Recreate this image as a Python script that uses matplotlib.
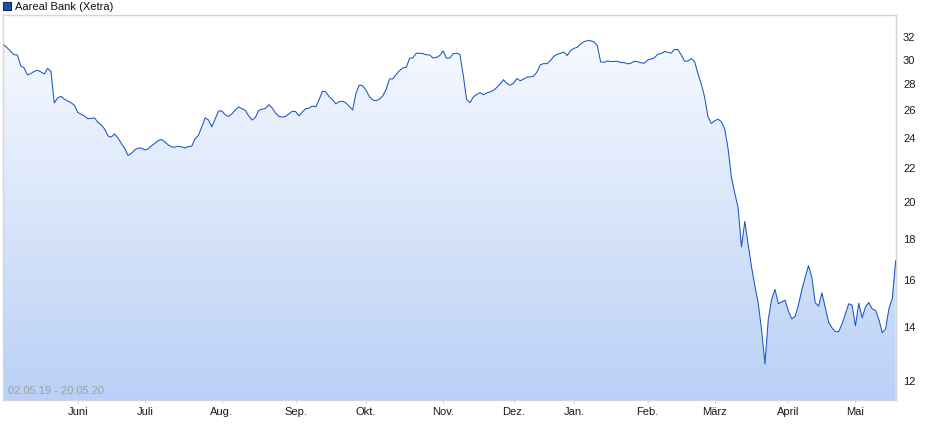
import numpy as np
import pandas as pd
import matplotlib
matplotlib.use('Agg')
import matplotlib.pyplot as plt
from matplotlib.patches import Rectangle
from matplotlib.ticker import FixedLocator, FixedFormatter, NullLocator

plt.rcParams['font.family'] = ['Liberation Sans', 'DejaVu Sans']

# Xetra closing prices, 02.05.19 - 20.05.20
prices = [
    31.19, 30.92, 30.62, 30.33, 30.31, 29.38, 29.21, 28.63, 28.75, 28.92,
    29.02, 28.88, 28.71, 29.17, 28.92, 26.44, 26.82, 26.93, 26.72, 26.59,
    26.45, 26.26, 25.73, 25.60, 25.47, 25.27, 25.29, 25.33, 25.01, 24.83,
    24.55, 24.06, 23.98, 24.20, 23.92, 23.55, 23.22, 22.76, 22.89, 23.12,
    23.25, 23.23, 23.12, 23.19, 23.39, 23.55, 23.75, 23.82, 23.65, 23.45,
    23.32, 23.30, 23.37, 23.32, 23.25, 23.34, 23.37, 23.86, 24.10, 24.69,
    25.33, 25.18, 24.69, 25.26, 25.84, 25.84, 25.55, 25.44, 25.63, 25.91,
    26.14, 25.99, 25.88, 25.47, 25.18, 25.37, 25.88, 25.97, 26.03, 26.30,
    26.06, 25.69, 25.44, 25.39, 25.44, 25.62, 25.82, 25.79, 25.47, 25.77,
    26.00, 26.04, 26.21, 26.14, 26.69, 27.33, 27.28, 26.91, 26.68, 26.36,
    26.54, 26.56, 26.44, 26.17, 25.91, 27.17, 27.82, 27.76, 27.41, 26.91,
    26.66, 26.61, 26.72, 26.98, 27.47, 28.31, 28.31, 28.69, 28.99, 29.21,
    29.27, 30.02, 30.08, 30.46, 30.46, 30.43, 30.33, 30.31, 30.05, 30.10,
    30.27, 30.66, 30.03, 30.05, 30.42, 30.46, 30.36, 28.63, 26.69, 26.46,
    26.89, 27.08, 27.23, 27.06, 27.20, 27.28, 27.40, 27.63, 27.91, 28.25,
    27.95, 27.80, 27.97, 28.34, 28.16, 28.29, 28.45, 28.48, 28.53, 28.88,
    29.48, 29.57, 29.57, 29.83, 30.18, 30.37, 30.45, 30.57, 30.26, 30.69,
    30.88, 30.98, 31.28, 31.48, 31.57, 31.57, 31.46, 31.12, 29.71, 29.68,
    29.80, 29.75, 29.76, 29.77, 29.66, 29.66, 29.55, 29.60, 29.77, 29.74,
    29.64, 29.61, 29.88, 29.96, 30.06, 30.37, 30.43, 30.60, 30.55, 30.47,
    30.79, 30.78, 30.33, 29.78, 29.78, 30.01, 29.76, 28.75, 27.91, 26.89,
    25.43, 24.93, 25.12, 25.24, 25.06, 24.55, 23.22, 21.38, 20.45, 19.60,
    17.53, 18.85, 17.64, 16.56, 15.69, 14.93, 13.84, 12.56, 14.26, 15.10,
    15.53, 14.91, 14.99, 15.06, 14.60, 14.28, 14.38, 14.86, 15.51, 16.08,
    16.62, 16.08, 14.96, 14.81, 15.38, 14.74, 14.14, 13.92, 13.77, 13.77,
    14.08, 14.48, 14.91, 14.85, 14.00, 14.93, 14.32, 14.78, 14.96, 14.69,
    14.63, 14.25, 13.73, 13.88, 14.71, 15.14, 16.85,
]

holidays = ['2019-12-24', '2019-12-25', '2019-12-26', '2019-12-31',
            '2020-01-01', '2020-04-10', '2020-04-13', '2020-05-01']
month_labels = ['Juni', 'Juli', 'Aug.', 'Sep.', 'Okt.', 'Nov.', 'Dez.',
                'Jan.', 'Feb.', 'März', 'April', 'Mai']
y_ticks = [12, 14, 16, 18, 20, 22, 24, 26, 28, 30, 32]
title = 'Aareal Bank (Xetra)'
period = '02.05.19 - 20.05.20'

dates = pd.bdate_range('2019-05-02', '2020-05-20')
dates = dates[~dates.isin(pd.to_datetime(holidays))]
n = min(len(dates), len(prices))
dates = dates[:n]
y = np.array(prices[:n])
x = np.arange(n)

# first trading day of each month
months = dates.to_period('M')
month_starts = [i for i in range(1, n) if months[i] != months[i - 1]]

W, H = 940, 435
fig = plt.figure(figsize=(W / 100, H / 100), dpi=100)
ax = fig.add_axes([3 / W, 1 - 401 / H, (896 - 3) / W, (401 - 16) / H])

ymin, ymax = 11.33, 33.97
ax.set_yscale('log')
ax.set_ylim(ymin, ymax)
ax.set_xlim(-0.3, n - 1 + 0.1)

# gradient fill under the line
coll = ax.fill_between(x, y, ymin, color='none', lw=0)
grad = np.linspace(0, 1, 256)[:, None]
top = np.array([250, 252, 255]) / 255
bot = np.array([186, 208, 246]) / 255
img = top + (bot - top) * grad[..., None]
img = np.repeat(img, 2, axis=1)
im = ax.imshow(img, extent=[0, 1, 0, 1], transform=ax.transAxes,
               aspect='auto', origin='upper', zorder=1)
im.set_clip_path(coll.get_paths()[0], ax.transData)

ax.plot(x, y, color='#1a56c4', lw=0.75, zorder=3)

for s in ax.spines.values():
    s.set_color('#d6d6d6')
    s.set_linewidth(1.0)

ax.yaxis.tick_right()
ax.yaxis.set_major_locator(FixedLocator(y_ticks))
ax.yaxis.set_major_formatter(FixedFormatter([str(t) for t in y_ticks]))
ax.yaxis.set_minor_locator(NullLocator())
ax.tick_params(axis='y', length=0, pad=5, labelsize=8, labelcolor='#1a1a1a')

ax.set_xticks(month_starts[:len(month_labels)])
ax.set_xticklabels(month_labels[:len(month_starts)])
ax.tick_params(axis='x', length=2.5, color='#d6d6d6', pad=1.5,
               labelsize=8, labelcolor='#1a1a1a')

ax.text(5 / 893, 0.012, period, transform=ax.transAxes, fontsize=8,
        color='#a0a0a0', ha='left', va='bottom', zorder=4)

# legend marker and title
fig.patches.append(Rectangle((3 / W, 1 - 11 / H), 8 / W, 8 / H,
                             transform=fig.transFigure, facecolor='#1f4fb4',
                             edgecolor='#1a2a50', lw=0.8))
fig.text(15 / W, 1 - 7 / H, title, fontsize=8, color='#111111',
         ha='left', va='center')

fig.savefig('out.png', dpi=100)
